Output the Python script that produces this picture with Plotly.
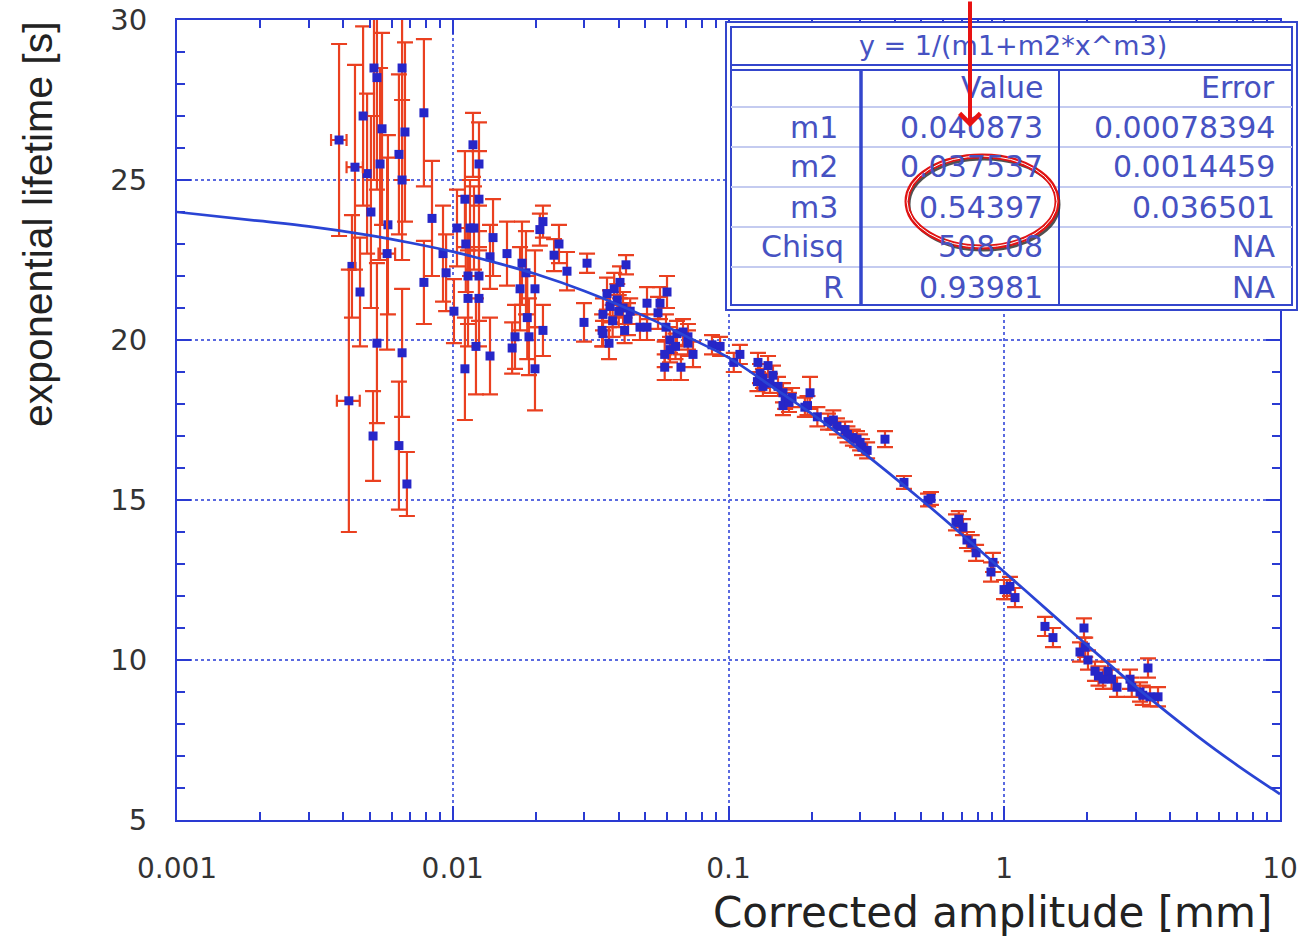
import plotly.graph_objects as go

# ---------------- data ----------------
amplitude = [
    0.00431, 0.00461, 0.00473, 0.00518, 0.00531, 0.00554, 0.00545, 0.00505, 0.00489,
    0.00582, 0.00531, 0.00514, 0.00638, 0.00682, 0.00655, 0.00655, 0.00671, 0.00638,
    0.00655, 0.00786, 0.00841, 0.00786, 0.00922, 0.00946,
    0.01184, 0.01245, 0.01107, 0.01245, 0.01036, 0.01155, 0.01194, 0.01115, 0.01136,
    0.01245, 0.01136, 0.01245, 0.0101, 0.01214, 0.01107, 0.01365, 0.0140, 0.01365,
    0.01573, 0.01783, 0.01843, 0.01754, 0.01987, 0.01863, 0.01682, 0.01642, 0.0189,
    0.02124, 0.01987, 0.02124, 0.0207, 0.02428, 0.0233, 0.02596, 0.03069, 0.02992,
    0.04249, 0.04041, 0.03626, 0.03951, 0.03718, 0.04145, 0.03506, 0.0432, 0.0348,
    0.03506, 0.03687, 0.05064, 0.05644, 0.05984, 0.05551, 0.05064, 0.04775, 0.05933,
    0.06135, 0.06503, 0.0684, 0.07128, 0.06135, 0.06424, 0.07436, 0.0587, 0.0587,
    0.06724, 0.0713, 0.08713, 0.0932, 0.038, 0.040, 0.0385, 0.042, 0.044,
    0.1045, 0.11, 0.1279, 0.1391, 0.1301, 0.1333, 0.1273, 0.1414, 0.1333, 0.1512,
    0.1576, 0.1605, 0.1576, 0.1657, 0.1975, 0.1934, 0.1892, 0.2295, 0.2474, 0.2646,
    0.2826, 0.2924, 0.3048, 0.3182, 0.3694, 0.145, 0.17, 0.21, 0.24, 0.27, 0.30,
    0.4328, 0.5292, 0.5424, 0.6683, 0.6843, 0.7085, 0.7325, 0.7624, 0.7903, 0.9104,
    0.8952,
    0.998, 1.024, 1.049, 1.094, 1.405, 1.502, 1.946, 1.882, 1.966, 2.012, 2.133,
    2.197, 2.281, 2.379, 2.45, 2.564, 2.858, 2.90, 3.107, 3.18, 3.321, 3.378, 3.611,
]
lifetime = [
    22.3, 21.5, 27.0, 28.5, 28.2, 26.6, 25.5, 24.0, 25.2,
    23.6, 19.9, 17.0, 16.7, 15.5, 19.6, 28.5, 26.5, 25.8,
    25.0, 27.1, 23.8, 21.8, 22.7, 22.1,
    26.1, 25.5, 24.4, 24.4, 23.5, 23.5, 23.5, 23.0, 22.0,
    22.0, 21.3, 21.3, 20.9, 19.8, 19.1, 19.5, 23.2, 22.6,
    22.7, 22.4, 22.1, 21.6, 21.6, 20.7, 20.1, 19.75, 20.1,
    20.3, 19.1, 23.7, 23.45, 23.0, 22.65, 22.15, 22.4, 20.55,
    22.35, 21.8, 21.45, 21.25, 21.05, 21.0, 20.8, 20.65, 20.3,
    20.2, 19.9, 21.15, 21.15, 21.5, 20.85, 20.4, 20.4, 20.4,
    20.0, 20.2, 20.25, 20.1, 19.7, 19.8, 19.55, 19.55, 19.15,
    19.15, 19.9, 19.85, 19.8, 20.6, 20.9, 21.6, 20.3, 20.9,
    19.3, 19.55, 19.3, 19.2, 18.95, 18.8, 18.7, 18.65, 18.55, 18.55,
    18.35, 18.15, 17.95, 18.05, 18.35, 17.95, 17.9, 17.45, 17.3, 17.2,
    16.95, 16.9, 16.65, 16.55, 16.9, 18.9, 18.2, 17.6, 17.5, 17.05, 16.8,
    15.55, 15.0, 15.05, 14.3, 14.4, 14.15, 13.75, 13.65, 13.35, 13.05,
    12.75,
    12.2, 12.2, 12.3, 11.95, 11.05, 10.7, 11.0, 10.25, 10.4, 10.0, 9.65,
    9.5, 9.4, 9.65, 9.4, 9.15, 9.4, 9.15, 9.0, 8.9, 9.75, 8.85, 8.85,
]
lifetime_err = [
    1.6, 1.7, 2.8, 3.5, 3.5, 3.0, 3.0, 3.0, 2.5,
    2.8, 2.5, 1.4, 2.0, 1.0, 2.0, 3.5, 2.8, 2.5,
    2.5, 2.3, 1.8, 1.3, 1.5, 1.2,
    1.0, 1.3, 1.5, 1.5, 1.2, 1.5, 1.3, 1.5, 1.5,
    1.4, 1.5, 1.5, 1.0, 1.5, 1.6, 1.2, 1.2, 1.0,
    1.0, 1.3, 1.3, 1.3, 1.2, 1.3, 1.0, 0.8, 1.2,
    0.8, 1.3, 0.5, 0.5, 0.6, 0.5, 0.6, 0.3, 0.6,
    0.3, 0.5, 0.5, 0.5, 0.5, 0.5, 0.5, 0.5, 0.5,
    0.4, 0.5, 0.5, 0.5, 0.5, 0.5, 0.4, 0.4, 0.4,
    0.4, 0.4, 0.4, 0.4, 0.4, 0.4, 0.4, 0.4, 0.4,
    0.4, 0.4, 0.3, 0.3, 0.5, 0.5, 0.5, 0.4, 0.4,
    0.3, 0.3, 0.3, 0.3, 0.3, 0.3, 0.3, 0.3, 0.3, 0.3,
    0.3, 0.3, 0.3, 0.3, 0.5, 0.3, 0.3, 0.25, 0.25, 0.25,
    0.25, 0.25, 0.25, 0.25, 0.25, 0.3, 0.3, 0.3, 0.3, 0.25, 0.25,
    0.2, 0.2, 0.2, 0.25, 0.25, 0.25, 0.25, 0.25, 0.25, 0.3,
    0.3,
    0.3, 0.3, 0.3, 0.3, 0.3, 0.3, 0.3, 0.3, 0.3, 0.3, 0.3,
    0.3, 0.3, 0.3, 0.3, 0.3, 0.3, 0.3, 0.3, 0.3, 0.3, 0.3, 0.3,
]

# points that also carry a horizontal error bar
amplitude_h = [0.00387, 0.00442, 0.00420, 0.00578]
amplitude_err_h = [0.00025, 0.0003, 0.0004, 0.0004]
lifetime_h = [26.25, 25.4, 18.1, 22.7]
lifetime_err_h = [3.0, 3.2, 4.1, 3.0]

# fitted curve y = 1/(m1+m2*x^m3)
fit_x = [0.001, 0.002, 0.003, 0.005, 0.007, 0.01, 0.015, 0.02, 0.03, 0.05, 0.07,
         0.1, 0.15, 0.2, 0.3, 0.5, 0.7, 1, 1.5, 2, 3, 5, 7, 10]
fit_y = [24.0, 23.72, 23.55, 23.27, 23.04, 22.76, 22.37, 22.06, 21.53, 20.73, 20.12,
         19.45, 18.43, 17.7, 16.56, 15.01, 13.93, 12.75, 11.41, 10.46, 9.16, 7.63,
         6.71, 5.81]

x_tick_vals = [0.001, 0.01, 0.1, 1, 10]
x_tick_text = ["0.001", "0.01", "0.1", "1", "10"]

fit_title = "y = 1/(m1+m2*x^m3)"
table_header = ["", "Value", "Error"]
table_rows = [
    ["m1", "0.040873", "0.00078394"],
    ["m2", "0.037537", "0.0014459"],
    ["m3", "0.54397", "0.036501"],
    ["Chisq", "508.08", "NA"],
    ["R", "0.93981", "NA"],
]

# ---------------- style ----------------
W, H = 1298, 939
L, R, T, B = 177, 1280, 20, 820   # plot area in pixels
BLUE = "#2a3ad2"
GRID = "#5a6ae0"
RED_ERR = "#ea4020"
MARK = "#2626c8"
LINE = "#2a44d4"
TXT = "#333333"
TBL_TXT = "#4652c2"
TBL_LINE = "#3446cc"
TBL_LIGHT = "#c4cbf0"
ARROW_RED = "#e81212"


def px(xp):
    return (xp - L) / (R - L)


def py(yp):
    return (B - yp) / (B - T)


minor_x = [m * 10 ** e for e in range(-3, 1) for m in range(2, 10)]

fig = go.Figure()

err_style = dict(type="data", color=RED_ERR, thickness=2.2, width=8)

fig.add_trace(go.Scatter(
    x=amplitude, y=lifetime, mode="markers",
    marker=dict(symbol="square", size=9, color=MARK, line=dict(width=0)),
    error_y=dict(array=lifetime_err, **err_style),
    showlegend=False, hoverinfo="x+y",
))
fig.add_trace(go.Scatter(
    x=amplitude_h, y=lifetime_h, mode="markers",
    marker=dict(symbol="square", size=9, color=MARK, line=dict(width=0)),
    error_y=dict(array=lifetime_err_h, **err_style),
    error_x=dict(array=amplitude_err_h, type="data", color=RED_ERR, thickness=2.2, width=6),
    showlegend=False, hoverinfo="x+y",
))
fig.add_trace(go.Scatter(
    x=fit_x, y=fit_y, mode="lines", line=dict(color=LINE, width=2.7, shape="spline"),
    showlegend=False, hoverinfo="skip",
))

axis_common = dict(
    showline=True, linecolor=BLUE, linewidth=2, mirror="allticks",
    ticks="inside", tickcolor=BLUE, tickwidth=2, ticklen=14,
    showgrid=True, gridcolor=GRID, griddash="dot", gridwidth=1.5,
    zeroline=False, automargin=False, ticklabeloverflow="allow",
    ticklabelstandoff=22,
)

fig.update_layout(
    width=W, height=H,
    margin=dict(l=L, r=W - R, t=T, b=H - B, pad=0, autoexpand=False),
    paper_bgcolor="white", plot_bgcolor="white",
    xaxis=dict(type="log", range=[-3, 1], tickvals=x_tick_vals, ticktext=x_tick_text,
               tickfont=dict(family="DejaVu Sans", size=28, color=TXT),
               minor=dict(ticks="inside", ticklen=8, tickwidth=1.5, tickcolor=BLUE,
                          tickvals=minor_x, showgrid=False),
               **axis_common),
    yaxis=dict(range=[5, 30], tick0=5, dtick=5,
               tickfont=dict(family="DejaVu Sans", size=29, color=TXT),
               minor=dict(ticks="inside", ticklen=8, tickwidth=1.5, tickcolor=BLUE,
                          dtick=1, showgrid=False),
               **axis_common),
)

# ---------------- fit table ----------------
shapes = []
tx0, tx1, ty0, ty1 = 726, 1297, 22, 310
shapes.append(dict(type="rect", xref="paper", yref="paper", x0=px(tx0), x1=px(tx1),
                   y0=py(ty1), y1=py(ty0), fillcolor="white",
                   line=dict(color=TBL_LINE, width=2)))
shapes.append(dict(type="rect", xref="paper", yref="paper", x0=px(tx0 + 5), x1=px(tx1 - 5),
                   y0=py(ty1 - 5), y1=py(ty0 + 5), fillcolor="rgba(0,0,0,0)",
                   line=dict(color=TBL_LINE, width=2)))
for yy in (65, 70):
    shapes.append(dict(type="line", xref="paper", yref="paper", x0=px(tx0 + 5), x1=px(tx1 - 5),
                       y0=py(yy), y1=py(yy), line=dict(color=TBL_LINE, width=2)))
for yy in (107, 147, 187, 227, 267):
    shapes.append(dict(type="line", xref="paper", yref="paper", x0=px(tx0 + 5), x1=px(tx1 - 5),
                       y0=py(yy), y1=py(yy), line=dict(color=TBL_LIGHT, width=2)))
shapes.append(dict(type="line", xref="paper", yref="paper", x0=px(861), x1=px(861),
                   y0=py(70), y1=py(ty1 - 5), line=dict(color=TBL_LINE, width=3.5)))
shapes.append(dict(type="line", xref="paper", yref="paper", x0=px(1059), x1=px(1059),
                   y0=py(70), y1=py(ty1 - 5), line=dict(color=TBL_LINE, width=2)))

# highlight ellipse
ex0, ex1, ey0, ey1 = 907, 1057, 156, 247
shapes.append(dict(type="circle", xref="paper", yref="paper", x0=px(ex0 + 2), x1=px(ex1 + 2),
                   y0=py(ey1 + 3), y1=py(ey0 + 3), line=dict(color="rgba(50,50,50,0.85)", width=3)))
shapes.append(dict(type="circle", xref="paper", yref="paper", x0=px(ex0), x1=px(ex1),
                   y0=py(ey1), y1=py(ey0), line=dict(color="#e01414", width=5)))
shapes.append(dict(type="circle", xref="paper", yref="paper", x0=px(ex0), x1=px(ex1),
                   y0=py(ey1), y1=py(ey0), line=dict(color="white", width=1)))

annotations = []
tfont = dict(family="DejaVu Sans", size=30, color=TBL_TXT)
annotations.append(dict(xref="paper", yref="paper", x=px(1013), y=py(45), text=fit_title,
                        showarrow=False, xanchor="center", yanchor="middle",
                        font=dict(family="DejaVu Sans", size=27, color=TBL_TXT)))
col_right = [840, 1045, 1277]
row_y = [88, 127, 167, 207, 247, 287]
for ci, t in enumerate(table_header):
    if t:
        annotations.append(dict(xref="paper", yref="paper", x=px(col_right[ci]), y=py(row_y[0]),
                                text=t, showarrow=False, xanchor="right", yanchor="middle",
                                font=tfont))
for ri, row in enumerate(table_rows):
    for ci, t in enumerate(row):
        xr = col_right[ci]
        if ci == 0 and t in ("Chisq", "R"):
            xr = 846
        annotations.append(dict(xref="paper", yref="paper", x=px(xr), y=py(row_y[ri + 1]),
                                text=t, showarrow=False, xanchor="right", yanchor="middle",
                                font=tfont))

# red arrow pointing at the value column
annotations.append(dict(xref="paper", yref="paper", x=px(970), y=py(127), text="",
                        showarrow=True, arrowhead=4, arrowsize=1, arrowwidth=4,
                        arrowcolor=ARROW_RED, ax=0, ay=-140, standoff=0))

# axis titles
annotations.append(dict(xref="paper", yref="paper", x=px(1274), y=py(912),
                        text="Corrected amplitude [mm]", showarrow=False,
                        xanchor="right", yanchor="middle",
                        font=dict(family="DejaVu Sans", size=42, color="#222222")))
annotations.append(dict(xref="paper", yref="paper", x=px(38), y=py(224),
                        text="exponential lifetime [s]", showarrow=False, textangle=-90,
                        xanchor="center", yanchor="middle",
                        font=dict(family="Liberation Sans", size=41, color="#222222")))

fig.update_layout(shapes=shapes, annotations=annotations)

# remove the page's default 8px body margin so the figure fills the window exactly
fig.write_html("out.html",
               config={"displayModeBar": False},
               post_script="document.body.style.margin='0px';document.body.style.overflow='hidden';")
